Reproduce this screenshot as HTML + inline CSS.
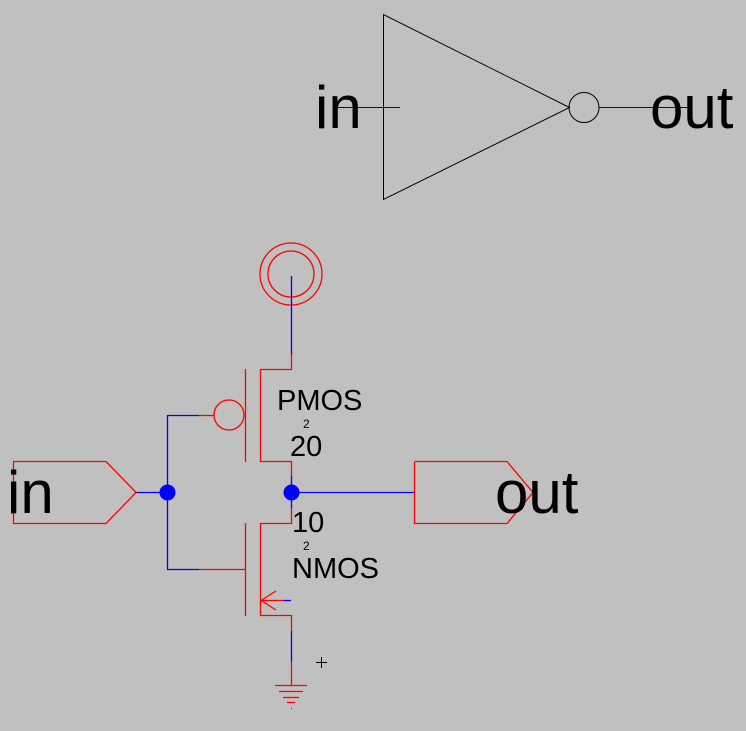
<!DOCTYPE html>
<html><head><style>
html,body{margin:0;padding:0;background:#c0c0c0;}
svg{display:block;}
text{font-family:"Liberation Sans",sans-serif;fill:#000;}
</style></head><body>
<svg width="746" height="731" viewBox="0 0 746 731" xmlns="http://www.w3.org/2000/svg">
<rect width="746" height="731" fill="#c0c0c0"/>
<!-- inverter symbol -->
<line x1="337" y1="107.5" x2="400" y2="107.5" stroke="#0000a0" stroke-width="1"/>
<line x1="599" y1="107.5" x2="688" y2="107.5" stroke="#0000a0" stroke-width="1"/>
<polygon points="383.5,14.5 383.5,199.5 569.5,107.5" fill="none" stroke="#000" stroke-width="1"/>
<circle cx="584" cy="107.5" r="15" fill="none" stroke="#000" stroke-width="1"/>
<text x="315" y="128" font-size="60">in</text>
<text x="650" y="128" font-size="60">out</text>

<g fill="none" stroke-width="1.3">
<!-- VDD -->
<circle cx="291" cy="274" r="31" stroke="#f00"/>
<circle cx="291" cy="274" r="23" stroke="#f00"/>
<line x1="291.5" y1="276" x2="291.5" y2="354" stroke="#00f"/>
<polyline points="291.5,354 291.5,369.5 260.5,369.5 260.5,461.5 291.5,461.5 291.5,476" stroke="#f00"/>
<line x1="291.5" y1="476" x2="291.5" y2="508" stroke="#00f"/>
<line x1="245.5" y1="369" x2="245.5" y2="462" stroke="#f00"/>
<circle cx="229" cy="415" r="15" stroke="#f00"/>
<line x1="199" y1="415.5" x2="214" y2="415.5" stroke="#f00"/>
<polyline points="199,415.5 167.5,415.5 167.5,569.5 199,569.5" stroke="#00f"/>
<line x1="199" y1="569.5" x2="245" y2="569.5" stroke="#f00"/>
<!-- NMOS -->
<polyline points="291.5,508 291.5,523.5 260.5,523.5 260.5,615.5 291.5,615.5 291.5,631" stroke="#f00"/>
<line x1="245.5" y1="523" x2="245.5" y2="616" stroke="#f00"/>
<line x1="261" y1="600.5" x2="284" y2="600.5" stroke="#f00"/>
<line x1="284" y1="600.5" x2="291" y2="600.5" stroke="#00f"/>
<polyline points="276,591 261,600.5 276,610" stroke="#f00"/>
<line x1="291.5" y1="631" x2="291.5" y2="662" stroke="#00f"/>
<line x1="291.5" y1="662" x2="291.5" y2="685" stroke="#f00"/>
<line x1="275" y1="685.5" x2="307" y2="685.5" stroke="#f00"/>
<line x1="279" y1="691.5" x2="303" y2="691.5" stroke="#f00"/>
<line x1="283" y1="697.5" x2="299" y2="697.5" stroke="#f00"/>
<line x1="287" y1="702.5" x2="295" y2="702.5" stroke="#f00"/>
<line x1="291" y1="708.5" x2="292" y2="708.5" stroke="#f00"/>
<!-- wires -->
<line x1="136" y1="492.5" x2="167" y2="492.5" stroke="#00f"/>
<line x1="291" y1="492.5" x2="414" y2="492.5" stroke="#00f"/>
<!-- ports -->
<polyline points="106,461.5 13.5,461.5 13.5,523.5 106,523.5 136,492.5 106,461.5" stroke="#f00"/>
<polyline points="414.5,461.5 507,461.5 533,492.5 507,523.5 414.5,523.5 414.5,461.5" stroke="#f00"/>
<line x1="316" y1="662.5" x2="327" y2="662.5" stroke="#000" stroke-width="1"/>
<line x1="321.5" y1="657" x2="321.5" y2="668" stroke="#000" stroke-width="1"/>
</g>
<circle cx="167.5" cy="492.5" r="8" fill="#00f"/>
<circle cx="291.5" cy="492.5" r="8" fill="#00f"/>
<text x="7" y="513" font-size="60">in</text>
<text x="495" y="513" font-size="60">out</text>
<text x="277" y="410" font-size="29">PMOS</text>
<text x="303" y="428" font-size="12">2</text>
<text x="290" y="456" font-size="29">20</text>
<text x="292" y="532" font-size="29">10</text>
<text x="303" y="550" font-size="12">2</text>
<text x="292" y="578" font-size="29">NMOS</text>
</svg>
</body></html>
